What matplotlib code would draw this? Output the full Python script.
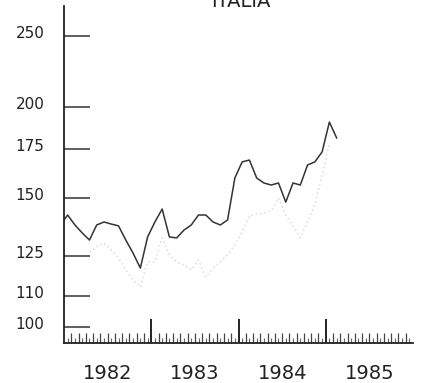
import numpy as np
import matplotlib.pyplot as plt
import matplotlib.transforms as mtransforms
from matplotlib.ticker import NullLocator, FixedLocator, NullFormatter

# serie mensile (indice), da dicembre 1981 a febbraio 1985
valori = [137.8,
          142.2, 137.8, 134.4, 131.4, 137.8, 139.1, 138.2, 137.4, 131.4, 126.1, 120.3, 132.7,
          139.1, 144.9, 132.7, 132.3, 135.6, 137.8, 142.2, 142.2, 139.1, 137.8, 140.0, 159.8,
          168.1, 169.1, 159.8, 157.3, 156.3, 157.3, 148.1, 157.3, 156.3, 166.5, 168.1, 173.5,
          190.6, 181.3]
mesi = np.arange(-1, len(valori) - 1)

# seconda serie (punteggiata chiara), da aprile 1982 a gennaio 1985
valori2 = [126.5, 128.6, 130.2, 127.3, 124.2, 119.6, 115.9, 113.3, 122.6,
           122.6, 132.3, 125.4, 122.6, 121.5, 119.6, 123.4, 117.0, 120.3, 122.6, 125.4, 129.4,
           134.8, 141.8, 142.7, 143.1, 144.0, 150.0, 142.2, 137.4, 132.3, 139.1, 146.8, 161.3,
           178.5]
mesi2 = np.arange(3, 3 + len(valori2))

anni = [1982, 1983, 1984, 1985]
yticks = [100, 110, 125, 150, 175, 200, 250]

x1 = 1982 + (mesi + 0.5) / 12
x2 = 1982 + (mesi2 + 0.5) / 12

fig = plt.figure(figsize=(4.22, 3.83), dpi=100)
ax = fig.add_axes([64 / 422, 1 - 343 / 383, 349 / 422, 337 / 383])

ax.plot(x2, valori2, color='#e0e0e0', lw=1.2, ls=':')
ax.plot(x1, valori, color='#333333', lw=1.1)

ax.set_yscale('log')
ax.set_ylim(94.99, 274.8)
ax.set_xlim(1982, 1986)

for s in ['top', 'right']:
    ax.spines[s].set_visible(False)
for s in ['left', 'bottom']:
    ax.spines[s].set_color('#222222')
    ax.spines[s].set_linewidth(1.3)

# asse y: tacche interne lunghe, etichette un po' sopra la tacca
ax.yaxis.set_major_locator(FixedLocator(yticks))
ax.yaxis.set_minor_locator(NullLocator())
ax.set_yticklabels([str(v) for v in yticks])
ax.tick_params(axis='y', direction='in', length=19, width=1.1, color='#333333',
               pad=14, labelsize=11, labelcolor='#222222')
off = mtransforms.ScaledTranslation(0, 4 / 100, fig.dpi_scale_trans)
for lab in ax.get_yticklabels():
    lab.set_transform(lab.get_transform() + off)

# asse x: separatori d'anno e tacche mensili
ax.xaxis.set_major_locator(FixedLocator(anni[1:]))
ax.xaxis.set_minor_locator(FixedLocator([m for m in 1982 + np.arange(1, 48) / 12
                                         if abs(m - round(m)) > 1e-6]))
ax.xaxis.set_major_formatter(NullFormatter())
ax.tick_params(axis='x', which='major', direction='in', length=17, width=1.4, color='#222222')
ax.tick_params(axis='x', which='minor', direction='in', length=7, width=0.9, color='#444444')

sec = ax.secondary_xaxis('bottom')
sec.spines['bottom'].set_visible(False)
sec.xaxis.set_major_locator(FixedLocator([a + 0.5 for a in anni]))
sec.set_xticklabels([str(a) for a in anni])
sec.xaxis.set_minor_locator(FixedLocator(1982 + (np.arange(48) + 0.5) / 12))
sec.tick_params(axis='x', which='major', length=0, pad=15, labelsize=14, labelcolor='#222222')
sec.tick_params(axis='x', which='minor', direction='in', length=3.5, width=0.8, color='#666666')

fig.text(241 / 422, 1 - 7 / 383, 'ITALIA', ha='center', va='baseline', fontsize=14, color='#222222')

fig.savefig('out.png', dpi=100)
